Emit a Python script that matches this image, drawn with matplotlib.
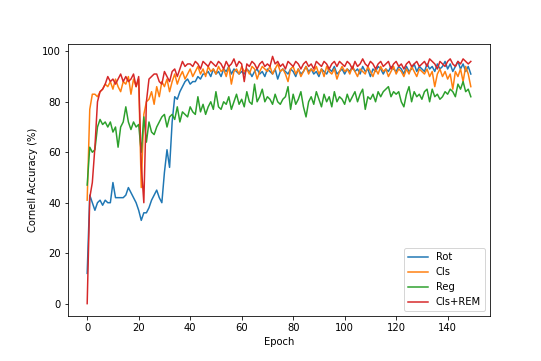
import numpy as np
import matplotlib
matplotlib.use("Agg")
import matplotlib.pyplot as plt

epochs = np.arange(150)

rot = [12, 43, 40, 37, 40, 41, 39, 41, 40, 40,
       48, 42, 42, 42, 42, 43, 46, 44, 42, 40,
       37, 33, 36, 36, 38, 41, 43, 45, 42, 40,
       52, 61, 54, 72, 82, 81, 84, 86, 88, 89,
       87, 88, 88, 90, 89, 91, 91, 92, 90, 93,
       91, 92, 90, 93, 92, 94, 91, 93, 92, 91,
       92, 91, 93, 92, 90, 92, 93, 91, 92, 90,
       93, 92, 91, 93, 89, 92, 93, 92, 91, 93,
       92, 90, 93, 91, 92, 94, 92, 93, 91, 92,
       90, 93, 92, 91, 93, 92, 94, 91, 92, 93,
       91, 93, 92, 94, 92, 93, 91, 94, 92, 93,
       90, 93, 92, 94, 93, 91, 93, 92, 94, 93,
       92, 94, 93, 91, 94, 92, 93, 95, 92, 94,
       93, 92, 95, 93, 94, 92, 95, 93, 94, 96,
       93, 95, 92, 94, 96, 93, 95, 92, 94, 91]

cls = [41, 77, 83, 83, 82, 84, 85, 87, 86, 88,
       85, 89, 86, 84, 88, 87, 90, 83, 89, 86,
       89, 46, 75, 80, 81, 84, 79, 86, 82, 88,
       86, 89, 84, 88, 91, 87, 90, 92, 89, 91,
       93, 90, 92, 94, 91, 93, 90, 94, 92, 93,
       91, 94, 92, 93, 90, 94, 87, 92, 93, 91,
       94, 92, 93, 91, 94, 93, 89, 92, 94, 93,
       92, 94, 91, 93, 95, 92, 93, 91, 88, 93,
       94, 91, 93, 90, 92, 94, 91, 93, 92, 94,
       91, 93, 90, 94, 92, 91, 93, 89, 92, 94,
       92, 93, 91, 94, 92, 90, 93, 92, 91, 94,
       92, 90, 93, 91, 94, 92, 93, 90, 92, 94,
       91, 93, 92, 90, 93, 91, 94, 92, 90, 93,
       92, 91, 93, 90, 92, 86, 91, 93, 90, 92,
       89, 91, 85, 92, 90, 93, 88, 94, 91, 86]

reg = [47, 62, 60, 61, 70, 73, 71, 72, 70, 72,
       68, 70, 62, 70, 72, 78, 72, 69, 72, 70,
       71, 60, 74, 64, 72, 68, 67, 70, 72, 74,
       75, 70, 74, 75, 73, 78, 72, 76, 75, 74,
       78, 76, 75, 82, 76, 79, 75, 78, 80, 77,
       84, 78, 77, 80, 79, 82, 77, 80, 83, 79,
       81, 78, 84, 80, 79, 87, 80, 82, 85, 80,
       82, 81, 79, 83, 80, 79, 81, 82, 86, 77,
       83, 79, 81, 84, 78, 74, 80, 82, 79, 84,
       81, 78, 83, 80, 82, 78, 84, 80, 82, 81,
       79, 83, 80, 82, 84, 80, 83, 85, 77, 82,
       81, 83, 80, 84, 82, 84, 85, 86, 82, 84,
       83, 84, 80, 78, 83, 86, 80, 84, 82, 83,
       81, 84, 85, 80, 85, 82, 83, 81, 82, 84,
       83, 85, 84, 82, 87, 85, 88, 84, 85, 82]

cls_rem = [0, 42, 48, 62, 80, 84, 85, 87, 90, 88,
           89, 87, 89, 91, 88, 90, 88, 89, 91, 86,
           90, 55, 40, 80, 89, 90, 91, 91, 88, 87,
           92, 90, 88, 92, 93, 90, 93, 96, 94, 95,
           95, 94, 96, 95, 93, 96, 95, 94, 96, 95,
           94, 96, 95, 93, 96, 94, 95, 97, 94, 96,
           95, 88, 95, 94, 96, 95, 93, 95, 96, 94,
           95, 94, 98, 95, 96, 94, 95, 93, 96, 95,
           94, 96, 95, 93, 95, 96, 94, 95, 93, 96,
           95, 94, 96, 95, 93, 95, 96, 94, 96, 95,
           94, 96, 95, 93, 96, 94, 95, 97, 95, 94,
           96, 95, 93, 95, 96, 94, 95, 96, 93, 95,
           96, 94, 95, 93, 95, 96, 94, 95, 96, 94,
           95, 96, 94, 97, 96, 95, 93, 96, 95, 94,
           96, 97, 95, 94, 96, 95, 97, 96, 95, 96]

fig = plt.figure(figsize=(541 / 72, 361 / 72), dpi=72)
ax = fig.add_axes([68 / 541, 45 / 361, 422 / 541, 272 / 361])

ax.plot(epochs, rot, label="Rot")
ax.plot(epochs, cls, label="Cls")
ax.plot(epochs, reg, label="Reg")
ax.plot(epochs, cls_rem, label="Cls+REM")

ax.set_xlabel("Epoch")
ax.set_ylabel("Cornell Accuracy (%)")
ax.legend(loc="lower right")

fig.savefig("out.png", dpi=72)
